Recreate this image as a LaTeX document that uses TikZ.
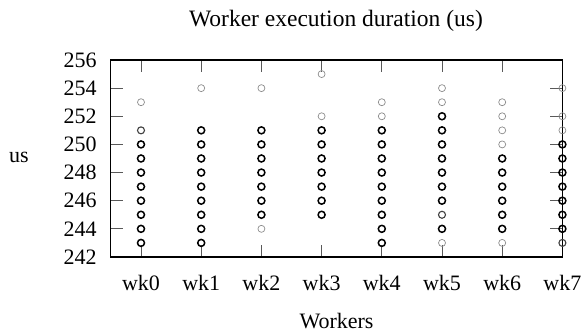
\documentclass[tikz,border=0pt]{standalone}
\usepackage{fontspec}
\setmainfont{Liberation Serif}
\begin{document}
\begin{tikzpicture}[x=1pt,y=1pt,
  txt/.style={font=\fontsize{22}{26}\selectfont, inner sep=0pt},
  titletxt/.style={font=\fontsize{23.5}{28}\selectfont, inner sep=0pt},
  ptL/.style={draw=black!45, line width=0.7pt},
  ptM/.style={draw=black!75, line width=1.1pt},
  ptB/.style={draw=black, line width=1.5pt},
  tickmark/.style={draw=black!65, line width=0.8pt},
  frame/.style={draw=black, line width=1.1pt}]
\useasboundingbox (0,0) rectangle (583,332);
\node[titletxt, anchor=base] (title) at (336,305) {Worker execution duration (us)};
\node[txt, anchor=base] (xlab) at (336.5,4) {Workers};
\node[txt, anchor=base] (ylab) at (19,169) {us};
\begin{scope}[shift={(141,272)}, x=60.2pt, y=14.07pt]
  % ticks
  \foreach \v in {244,246,...,254} {
    \draw[tickmark] (-0.5,\v-256) -- ++(12pt,0);
    \draw[tickmark] (7,\v-256) -- ++(-12pt,0);
  }
  \foreach \i in {0,...,6} \draw[tickmark] (\i,0) -- ++(0,-12pt);
  \foreach \i in {0,...,7} \draw[tickmark] (\i,-14) -- ++(0,12pt);
  % frame
  \draw[frame] (-0.5,-14) rectangle (7,0);
  % tick labels
  \foreach \v in {242,244,...,256}
    \node[txt, anchor=east] (y\v) at ([xshift=-14pt]-0.5,\v-256) {\v};
  \foreach \i in {0,...,7}
    \node[txt, anchor=base] (wk\i) at ([yshift=-34pt]\i,-14) {wk\i};
  % points
  \foreach \i/\v/\s in {
    0/253/L,0/251/M,0/250/B,0/249/B,0/248/B,0/247/B,0/246/B,0/245/B,0/244/B,0/243/B,
    1/254/L,1/251/B,1/250/B,1/249/B,1/248/B,1/247/B,1/246/B,1/245/B,1/244/B,1/243/B,
    2/254/L,2/251/B,2/250/B,2/249/B,2/248/B,2/247/B,2/246/B,2/245/B,2/244/L,
    3/255/L,3/252/L,3/251/B,3/250/B,3/249/B,3/248/B,3/247/B,3/246/B,3/245/B,
    4/253/L,4/252/L,4/251/B,4/250/B,4/249/B,4/248/B,4/247/B,4/246/B,4/245/B,4/244/B,4/243/B,
    5/254/L,5/253/L,5/252/B,5/251/B,5/250/B,5/249/B,5/248/B,5/247/B,5/246/B,5/245/M,5/244/B,5/243/L,
    6/253/L,6/252/L,6/251/L,6/250/L,6/249/B,6/248/B,6/247/B,6/246/B,6/245/B,6/244/B,6/243/L,
    7/254/L,7/252/L,7/251/L,7/250/B,7/249/B,7/248/B,7/247/B,7/246/B,7/245/B,7/244/B,7/243/M}
    \draw[pt\s] (\i,\v-256) circle[radius=3.5pt];
\end{scope}
\end{tikzpicture}
\end{document}
